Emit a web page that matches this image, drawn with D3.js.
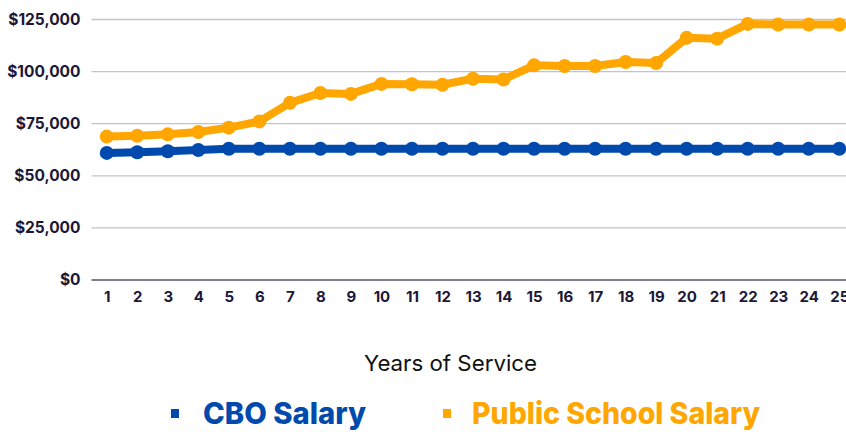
<!DOCTYPE html>
<html>
<head>
<meta charset="utf-8">
<script src="https://cdn.jsdelivr.net/npm/d3@7"></script>
<style>
  body { margin: 0; background: #fff; }
  svg { display: block; font-family: Inter, "Open Sans", sans-serif; }
</style>
</head>
<body>
<div id="chart"></div>
<script>
// Data
var years = ["1","2","3","4","5","6","7","8","9","10","11","12","13","14","15","16","17","18","19","20","21","22","23","24","25"];
var cboSalary = [61000, 61300, 61800, 62400, 63000, 63000, 63000, 63000, 63000, 63000, 63000, 63000, 63000,
                 63000, 63000, 63000, 63000, 63000, 63000, 63000, 63000, 63000, 63000, 63000, 63000];
var schoolSalary = [68800, 69200, 69900, 71000, 73100, 76100, 85000, 89700, 89300, 94100, 93900, 93700, 96600,
                    96200, 103000, 102700, 102700, 104600, 104100, 116200, 115800, 122900, 122600, 122600, 122600];
var yTicks = [0, 25000, 50000, 75000, 100000, 125000];
var seriesNames = ["CBO Salary", "Public School Salary"];
var seriesColors = ["#004aad", "#ffa600"];

var width = 846, height = 432;

var svg = d3.select("#chart")
  .append("svg")
  .attr("width", width)
  .attr("height", height);

var x = d3.scalePoint()
  .domain(years)
  .range([91.5, 854.5])
  .padding(0.5);

var y = d3.scaleLinear()
  .domain([0, 125000])
  .range([280, 19.5]);

// gridlines
svg.append("g")
  .selectAll("line")
  .data(yTicks.filter(function(d) { return d > 0; }))
  .enter()
  .append("line")
  .attr("x1", 91.5)
  .attr("x2", width)
  .attr("y1", function(d) { return y(d); })
  .attr("y2", function(d) { return y(d); })
  .style("stroke", "#c4c3ca")
  .style("stroke-width", 1.3);

// y axis labels
var yAxis = d3.axisLeft(y)
  .tickValues(yTicks)
  .tickSize(0)
  .tickPadding(11)
  .tickFormat(function(d) { return "$" + d3.format(",")(d); });

svg.append("g")
  .attr("transform", "translate(91.5,0)")
  .call(yAxis)
  .call(function(g) { g.select(".domain").remove(); })
  .selectAll("text")
  .style("font-family", "Inter, sans-serif")
  .style("font-size", "15.5px")
  .style("font-weight", "bold")
  .style("fill", "#1c1838");

// x axis
var xAxis = d3.axisBottom(x).tickSize(0).tickPadding(11);
var xg = svg.append("g")
  .attr("transform", "translate(0,280)")
  .call(xAxis);
xg.select(".domain")
  .attr("d", "M91.5,0H" + width)
  .style("stroke", "#57526b")
  .style("stroke-width", 1.3);
xg.selectAll("text")
  .style("font-family", "Inter, sans-serif")
  .style("font-size", "15px")
  .style("font-weight", "bold")
  .style("fill", "#1c1838");

// lines + points
var allSeries = [cboSalary, schoolSalary];
var line = d3.line()
  .x(function(d, i) { return x(years[i]); })
  .y(function(d) { return y(d); });

allSeries.forEach(function(values, s) {
  svg.append("path")
    .datum(values)
    .attr("d", line)
    .style("fill", "none")
    .style("stroke", seriesColors[s])
    .style("stroke-width", 8)
    .style("stroke-linejoin", "round");

  svg.append("g")
    .selectAll("circle")
    .data(values)
    .enter()
    .append("circle")
    .attr("cx", function(d, i) { return x(years[i]); })
    .attr("cy", function(d) { return y(d); })
    .attr("r", 7)
    .style("fill", seriesColors[s]);
});

// axis title
svg.append("text")
  .attr("x", 450.5)
  .attr("y", 371)
  .attr("text-anchor", "middle")
  .attr("textLength", 173)
  .attr("lengthAdjust", "spacingAndGlyphs")
  .text("Years of Service")
  .style("font-family", "Inter, sans-serif")
  .style("font-size", "22px")
  .style("fill", "#111");

// legend
var legendX = [171, 443];
var legendTextX = [203, 472];
var legendW = [163, 288];
seriesNames.forEach(function(name, s) {
  svg.append("rect")
    .attr("x", legendX[s])
    .attr("y", 409)
    .attr("width", 8)
    .attr("height", 9)
    .style("fill", seriesColors[s]);
  svg.append("text")
    .attr("x", legendTextX[s])
    .attr("y", 424)
    .attr("textLength", legendW[s])
    .attr("lengthAdjust", "spacingAndGlyphs")
    .text(name)
    .style("font-family", "Inter, sans-serif")
    .style("font-size", "30px")
    .style("font-weight", 800)
    .style("fill", seriesColors[s]);
});
</script>
</body>
</html>
